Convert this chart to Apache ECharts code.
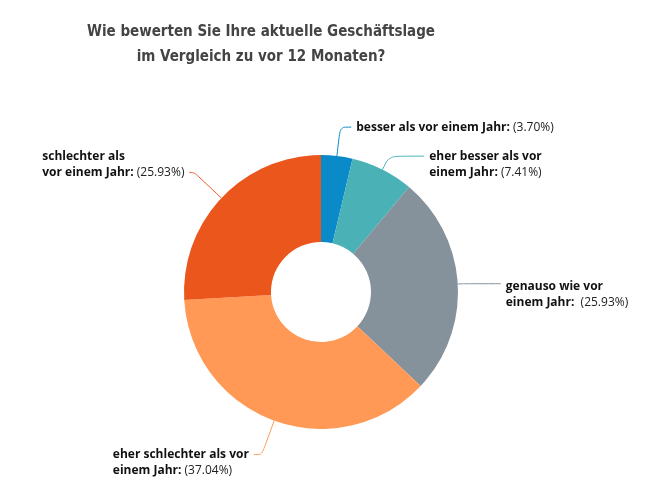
<!DOCTYPE html>
<html lang="de">
<head>
    <meta charset="utf-8">
    <script src="https://cdn.jsdelivr.net/npm/echarts@6/dist/echarts.min.js"></script>
    <style>
        html, body { margin: 0; padding: 0; width: 100%; height: 100%; background: #fff; }
        #chart { width: 653px; height: 495px; }
    </style>
</head>
<body>
    <div id="chart"></div>
    <script type="text/javascript">
        // Antwortkategorien (Reihenfolge im Uhrzeigersinn ab 12 Uhr)
        var categories = [
            'besser als vor einem Jahr',
            'eher besser als vor einem Jahr',
            'genauso wie vor einem Jahr',
            'eher schlechter als vor einem Jahr',
            'schlechter als vor einem Jahr'
        ];
        // Anteile in Prozent
        var shares = [3.70, 7.41, 25.93, 37.04, 25.93];
        // Beschriftungstext, Zeilen wie im Original umbrochen
        var labelLines = [
            ['besser als vor einem Jahr:'],
            ['eher besser als vor', 'einem Jahr:'],
            ['genauso wie vor', 'einem Jahr: '],
            ['eher schlechter als vor', 'einem Jahr:'],
            ['schlechter als', 'vor einem Jahr:']
        ];
        var colors = ['#0a8ac8', '#4ab2b6', '#85929b', '#ff9955', '#eb561d'];

        // Feinabstimmung der Führungslinien / Beschriftungen
        var lineLen = [29, 15, 5, 36, 37];
        var lineLen2 = [11, 35, 38, 8, 5];
        var labelPad = [[0, 0, 0, 0], [16, 0, 0, 0], [22, 0, 0, 0], [16, 0, 0, 0], [0, 0, 16, 0]];

        var titleText = 'Wie bewerten Sie Ihre aktuelle Geschäftslage\nim Vergleich zu vor 12 Monaten?';

        // schmale Schrift für den Titel, falls vorhanden
        function hasFont(name) {
            var ctx = document.createElement('canvas').getContext('2d');
            var s = 'Wie bewerten Sie Ihre aktuelle';
            ctx.font = 'bold 20px monospace';
            var a = ctx.measureText(s).width;
            ctx.font = 'bold 20px "' + name + '", monospace';
            return ctx.measureText(s).width !== a;
        }
        var titleFont = '"Open Sans"';
        if (hasFont('Liberation Sans Narrow')) titleFont = '"Liberation Sans Narrow"';
        else if (hasFont('DejaVu Sans Condensed')) titleFont = '"DejaVu Sans Condensed"';
        var titleSize = (function () {
            var ctx = document.createElement('canvas').getContext('2d');
            ctx.font = 'bold 20px ' + titleFont;
            var w = ctx.measureText('Wie bewerten Sie Ihre aktuelle Geschäftslage').width;
            return Math.min(20, Math.round(20 * 353 / w * 2) / 2);
        })();

        var myChart = echarts.init(document.getElementById('chart'), null, { renderer: 'canvas' });

        var data = [];
        for (var i = 0; i < categories.length; i++) {
            var lines = labelLines[i];
            var txt = '';
            for (var j = 0; j < lines.length; j++) {
                if (j > 0) txt += '\n';
                txt += '{b|' + lines[j] + '}';
            }
            txt += '{p| (' + shares[i].toFixed(2) + '%)}';
            data.push({
                name: categories[i],
                value: shares[i],
                itemStyle: { color: colors[i] },
                label: { formatter: txt, padding: labelPad[i] },
                labelLine: { length: lineLen[i], length2: lineLen2[i] }
            });
        }

        var option = {
            animation: false,
            title: {
                text: titleText,
                left: 256,
                top: 15,
                textAlign: 'center',
                textStyle: {
                    fontFamily: titleFont,
                    fontWeight: 'bold',
                    fontSize: titleSize,
                    lineHeight: 25,
                    color: '#444444'
                }
            },
            series: [{
                type: 'pie',
                center: [321, 292],
                radius: [50, 137],
                startAngle: 90,
                clockwise: true,
                avoidLabelOverlap: false,
                itemStyle: { borderWidth: 0 },
                label: {
                    show: true,
                    position: 'outside',
                    distanceToLabelLine: 5,
                    rich: {
                        b: {
                            fontFamily: '"Open Sans", sans-serif',
                            fontWeight: 'bold',
                            fontSize: 12,
                            lineHeight: 16,
                            color: '#111111',
                            align: 'left'
                        },
                        p: {
                            fontFamily: '"Open Sans", sans-serif',
                            fontSize: 12,
                            lineHeight: 16,
                            color: '#222222',
                            align: 'left'
                        }
                    }
                },
                labelLine: {
                    show: true,
                    smooth: 0.3,
                    lineStyle: { width: 1 }
                },
                data: data
            }]
        };

        myChart.setOption(option);
    </script>
</body>
</html>
